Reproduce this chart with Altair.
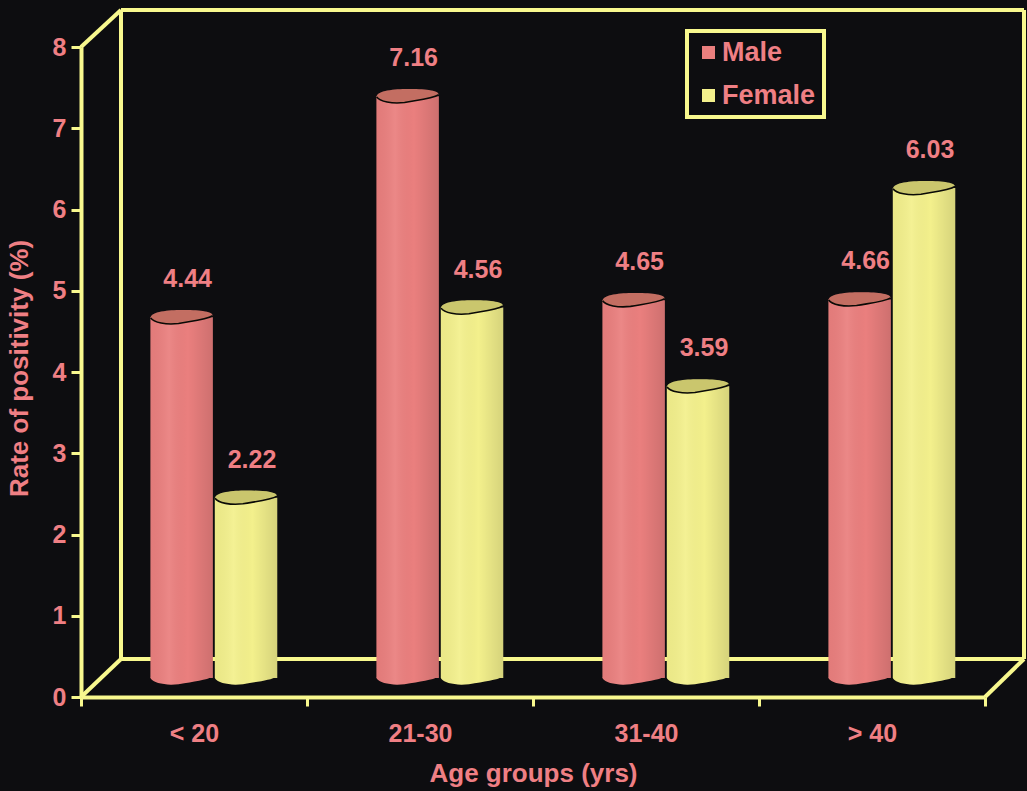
import altair as alt
import pandas as pd

# Rate of positivity by age group and sex
age_groups = ["< 20", "21-30", "31-40", "> 40"]
male_rates = [4.44, 7.16, 4.65, 4.66]
female_rates = [2.22, 4.56, 3.59, 6.03]
sexes = ["Male", "Female"]

PINK = "#EA7F7E"
YELLOW = "#F3F08C"
LINE = "#F8F88E"
TEXT = "#EF7F84"
BG = "#0D0D10"
FONT = "Liberation Sans"

# Depth of the 3-D box: the back wall sits this far from the front axes,
# and the cylinders stand halfway in.
DEPTH_X, DEPTH_Y = 40, 38
MID_Y = -DEPTH_Y / 2
PLOT_W, PLOT_H = 904, 650
BAR_W = 62

table = pd.DataFrame(
    [{"age": a, "sex": "Male", "rate": v} for a, v in zip(age_groups, male_rates)]
    + [{"age": a, "sex": "Female", "rate": v} for a, v in zip(age_groups, female_rates)]
)

x = alt.X(
    "age:N",
    sort=age_groups,
    scale=alt.Scale(paddingInner=0, paddingOuter=0),
    axis=alt.Axis(
        title="Age groups (yrs)",
        tickBand="extent",
        labelAngle=0,
        labelPadding=15,
        titlePadding=14,
        tickSize=9,
    ),
)
# align pushes each pair of cylinders towards the back-wall side of its band
x_off = alt.XOffset(
    "sex:N",
    sort=sexes,
    scale=alt.Scale(domain=sexes, paddingInner=0.03, paddingOuter=0.77, align=0.70),
)
y = alt.Y(
    "rate:Q",
    scale=alt.Scale(domain=[0, 8], nice=False),
    axis=alt.Axis(
        title="Rate of positivity (%)",
        values=list(range(9)),
        format="d",
        grid=False,
        labelPadding=5,
        titlePadding=20,
        titleY=321,
        tickSize=10,
    ),
)
color = alt.Color(
    "sex:N",
    scale=alt.Scale(domain=sexes, range=[PINK, YELLOW]),
    legend=alt.Legend(
        orient="none",
        legendX=606,
        legendY=-16,
        title=None,
        symbolType="square",
        symbolSize=170,
        symbolStrokeWidth=0,
        labelFontSize=27,
        labelFontWeight="bold",
        labelFont=FONT,
        labelColor=TEXT,
        labelOffset=0,
        rowPadding=15,
        padding=8,
        strokeColor=LINE,
    ),
)

# Horizontal shading laid over the flat fills to make the bars look round.
shade = alt.LinearGradient(
    gradient="linear",
    x1=0, x2=1, y1=0, y2=0,
    stops=[
        alt.GradientStop(color="rgba(0,0,0,0.03)", offset=0),
        alt.GradientStop(color="rgba(255,255,255,0.07)", offset=0.3),
        alt.GradientStop(color="rgba(0,0,0,0.00)", offset=0.6),
        alt.GradientStop(color="rgba(0,0,0,0.12)", offset=1),
    ],
)

ELLIPSE = "M-1,.02 C-1,-.18 -.4,-.23 0,-.23 C.5,-.23 1,-.2 1,-.05 C.8,.07 .4,.11 -.1,.2 C-.5,.25 -.9,.17 -1,.02 Z"
FRONT_EDGE = "M-1,.02 C-.9,.17 -.5,.25 -.1,.2 C.4,.11 .8,.07 1,-.05"
SIZE = BAR_W ** 2
off = dict(yOffset=MID_Y)
bar_off = dict(yOffset=MID_Y, y2Offset=MID_Y)

base = alt.Chart(table)
zero = base.transform_calculate(base_y="0")

bottom = zero.mark_point(shape=ELLIPSE, size=SIZE, filled=True, opacity=1, strokeWidth=0, **off).encode(
    x=x, xOffset=x_off, y=alt.Y("base_y:Q"), color=color
)
bottom_shade = zero.mark_point(
    shape=ELLIPSE, size=SIZE, filled=True, opacity=1, strokeWidth=0, fill=shade, **off
).encode(x=x, xOffset=x_off, y=alt.Y("base_y:Q"))
body = base.mark_bar(**bar_off).encode(x=x, xOffset=x_off, y=y, color=color)
body_shade = base.mark_bar(fill=shade, **bar_off).encode(x=x, xOffset=x_off, y=y)
cap = base.mark_point(shape=ELLIPSE, size=SIZE, filled=True, opacity=1, strokeWidth=0, **off).encode(
    x=x, xOffset=x_off, y=y, color=color
)
cap_dark = base.mark_point(
    shape=ELLIPSE, size=SIZE, filled=True, opacity=1, strokeWidth=0, fill="rgba(60,50,0,0.22)", **off
).encode(x=x, xOffset=x_off, y=y)
cap_edge = base.mark_point(
    shape=FRONT_EDGE, size=SIZE, filled=False, opacity=1, stroke="#0A0A06", strokeWidth=1.6, **off
).encode(x=x, xOffset=x_off, y=y)
labels = base.mark_text(
    font=FONT, fontSize=25, fontWeight="bold", color=TEXT, dx=6, yOffset=MID_Y - 38
).encode(x=x, xOffset=x_off, y=y, text=alt.Text("rate:Q", format=".2f"))

# Edges of the back wall, floor and the top-left bevel, relative to the plot area.
wall_segments = [
    (DEPTH_X, -DEPTH_Y + 1, DEPTH_X, PLOT_H - DEPTH_Y),
    (DEPTH_X, -DEPTH_Y + 1, PLOT_W + DEPTH_X - 1, -DEPTH_Y + 1),
    (PLOT_W + DEPTH_X - 1, -DEPTH_Y + 1, PLOT_W + DEPTH_X - 1, PLOT_H - DEPTH_Y),
    (DEPTH_X, PLOT_H - DEPTH_Y, PLOT_W + DEPTH_X - 1, PLOT_H - DEPTH_Y),
    (0, 0, DEPTH_X, -DEPTH_Y + 1),
    (0, PLOT_H, DEPTH_X, PLOT_H - DEPTH_Y),
    (PLOT_W, PLOT_H, PLOT_W + DEPTH_X - 1, PLOT_H - DEPTH_Y),
]
one_row = alt.Data(values=[{}])
walls = [
    alt.Chart(one_row).mark_rule(color=LINE, strokeWidth=4).encode(
        x=alt.value(a), y=alt.value(b), x2=alt.value(c), y2=alt.value(d)
    )
    for a, b, c, d in wall_segments
]

chart = (
    alt.layer(*walls, bottom, bottom_shade, body, body_shade, cap, cap_dark, cap_edge, labels)
    .properties(
        width=PLOT_W,
        height=PLOT_H,
        background=BG,
        padding={"left": 81, "top": 47, "right": 42, "bottom": 94},
        autosize=alt.AutoSizeParams(type="none"),
    )
    .configure_view(stroke=None)
    .configure_legend(strokeWidth=4)
    .configure_axis(
        domainColor=LINE,
        domainWidth=4,
        tickColor=LINE,
        tickWidth=3,
        labelColor=TEXT,
        titleColor=TEXT,
        labelFont=FONT,
        titleFont=FONT,
        labelFontSize=25,
        titleFontSize=26,
        labelFontWeight="bold",
        titleFontWeight="bold",
    )
)

chart.save("out.html", embed_options={"renderer": "svg", "actions": False})
